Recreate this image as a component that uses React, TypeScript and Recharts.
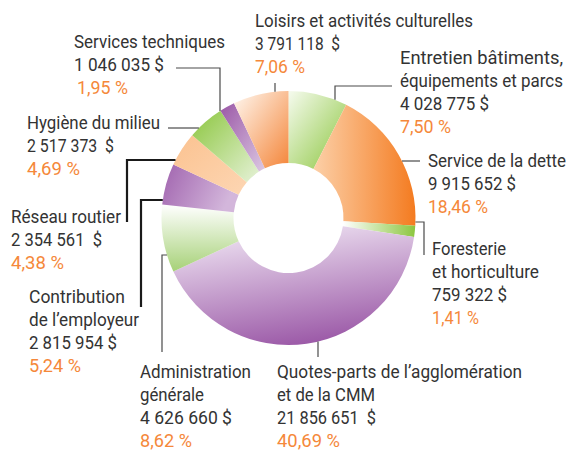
import React from "react";
import { PieChart, Pie, Cell } from "recharts";

// Order: clockwise from 12 o'clock
const categoryLines: string[][] = [
  ["Entretien bâtiments,", "équipements et parcs"],
  ["Service de la dette"],
  ["Foresterie", "et horticulture"],
  ["Quotes-parts de l’agglomération", "et de la CMM"],
  ["Administration", "générale"],
  ["Contribution", "de l’employeur"],
  ["Réseau routier"],
  ["Hygiène du milieu"],
  ["Services techniques"],
  ["Loisirs et activités culturelles"],
];
const amounts: number[] = [4028775, 9915652, 759322, 21856651, 4626660, 2815954, 2354561, 2517373, 1046035, 3791118];
const amountLabels: string[] = [
  "4 028 775 $",
  "9 915 652 $",
  "759 322 $",
  "21 856 651  $",
  "4 626 660 $",
  "2 815 954 $",
  "2 354 561  $",
  "2 517 373  $",
  "1 046 035 $",
  "3 791 118  $",
];
const percents: number[] = [7.5, 18.46, 1.41, 40.69, 8.62, 5.24, 4.38, 4.69, 1.95, 7.06];

// gradients: [x1,y1,x2,y2, colorFrom, colorTo]
const gradients: [number, number, number, number, string, string][] = [
  [0, 0, 1, 1, "#f6fbef", "#8cc63f"],
  [0, 0, 1, 0, "#fcd0a8", "#f47b20"],
  [0, 0, 1, 0, "#ffffff", "#8cc63f"],
  [0.3, 0, 0.6, 1, "#efe4f3", "#9a57a6"],
  [0, 0, 0, 1, "#ffffff", "#a6d177"],
  [0, 0, 1, 0.3, "#a063ae", "#d3b6db"],
  [0, 0, 1, 1, "#fbc290", "#fdd6b3"],
  [0, 0, 1, 1, "#8cc63f", "#e6f2d8"],
  [0, 0, 1, 1, "#9a57a6", "#dcc8e3"],
  [0, 0, 1, 1, "#fff8f1", "#f4863a"],
];

// label layout: text anchor (x, first baseline), per-line widths, leader path, end mode
type Layout = { x: number; y: number; w: number[]; pts: [number, number][]; end: "h" | "v"; strong?: boolean; pctDx?: number };
const layouts: Layout[] = [
  { x: 400, y: 64, w: [163, 163, 89, 51], pts: [[392, 86], [335, 86]], end: "v" },
  { x: 428, y: 167, w: [138, 88, 60], pts: [[420, 161]], end: "h" },
  { x: 432, y: 255, w: [74, 107, 75, 47], pts: [[424, 255], [424, 222]], end: "h" },
  { x: 277, y: 378, w: [245, 98, 99, 63], pts: [[318, 357]], end: "v" },
  { x: 140, y: 378, w: [111, 64, 92, 52], pts: [[162, 352], [162, 255]], end: "h" },
  { x: 29, y: 303, w: [96, 110, 88, 52], pts: [[141, 307], [141, 200]], end: "h", strong: true },
  { x: 11, y: 223, w: [110, 91, 53], pts: [[127, 222], [127, 160]], end: "h", strong: true },
  { x: 27, y: 129, w: [133, 87, 53], pts: [[168, 128]], end: "h" },
  { x: 74, y: 48, w: [151, 90, 51], pts: [[176, 68], [220, 68]], end: "v", pctDx: 3 },
  { x: 255, y: 27, w: [218, 85, 50], pts: [[275, 83]], end: "v" },
];

const data = amounts.map((v, i) => ({ name: categoryLines[i].join(" "), value: v, idx: i }));

const FONT = "Roboto, 'Noto Sans', sans-serif";
const LH = 23;
const SX = 0.86;

const renderLabel = (props: any) => {
  const { cx, cy, outerRadius } = props;
  const i = props.payload?.idx ?? props.index;
  const L = layouts[i];
  const last = L.pts[L.pts.length - 1];
  let endPt: [number, number];
  if (L.end === "v") {
    const d = Math.sqrt(Math.max(0, outerRadius * outerRadius - (last[0] - cx) ** 2));
    endPt = [last[0], last[1] < cy ? cy - d : cy + d];
  } else {
    const d = Math.sqrt(Math.max(0, outerRadius * outerRadius - (last[1] - cy) ** 2));
    endPt = [last[0] < cx ? cx - d : cx + d, last[1]];
  }
  const all = [...L.pts, endPt];
  const path = all.map((p, k) => `${k === 0 ? "M" : "L"}${p[0]},${p[1]}`).join(" ");
  const pct = percents[i].toFixed(2).replace(".", ",") + " %";
  const rows: { t: string; c: string; dx: number }[] = [
    ...categoryLines[i].map((t) => ({ t, c: "#333333", dx: 0 })),
    { t: amountLabels[i], c: "#333333", dx: 0 },
    { t: pct, c: "#f5883a", dx: L.pctDx || 0 },
  ];
  return (
    <g key={`lbl-${i}`}>
      <path d={path} fill="none" stroke={L.strong ? "#1a1a1a" : "#4a4a4a"} strokeWidth={L.strong ? 2.2 : 1.2} />
      {rows.map((r, k) => (
        <text
          key={k}
          transform={`translate(${L.x + r.dx},${L.y + k * LH}) scale(${SX},1)`}
          x={0}
          y={0}
          fontFamily={FONT}
          fontSize={19}
          fill={r.c}
          textLength={L.w[k] / SX}
          lengthAdjust="spacingAndGlyphs"
          style={{ whiteSpace: "pre" }}
        >
          {r.t}
        </text>
      ))}
    </g>
  );
};

export default function App() {
  return (
    <div style={{ position: "absolute", left: 0, top: 0, width: 569, height: 452, background: "#fff" }}>
      <PieChart width={569} height={452} margin={{ top: 0, right: 0, bottom: 0, left: 0 }}>
        <defs>
          {gradients.map((g, i) => (
            <linearGradient key={i} id={`grad${i}`} x1={g[0]} y1={g[1]} x2={g[2]} y2={g[3]}>
              <stop offset="0%" stopColor={g[4]} />
              <stop offset="100%" stopColor={g[5]} />
            </linearGradient>
          ))}
        </defs>
        <Pie
          data={data}
          dataKey="value"
          nameKey="name"
          cx={288.5}
          cy={218}
          innerRadius={55}
          outerRadius={127}
          startAngle={90}
          endAngle={-270}
          stroke="none"
          isAnimationActive={false}
          label={renderLabel}
          labelLine={false}
        >
          {data.map((d, i) => (
            <Cell key={i} fill={`url(#grad${i})`} />
          ))}
        </Pie>
      </PieChart>
    </div>
  );
}
